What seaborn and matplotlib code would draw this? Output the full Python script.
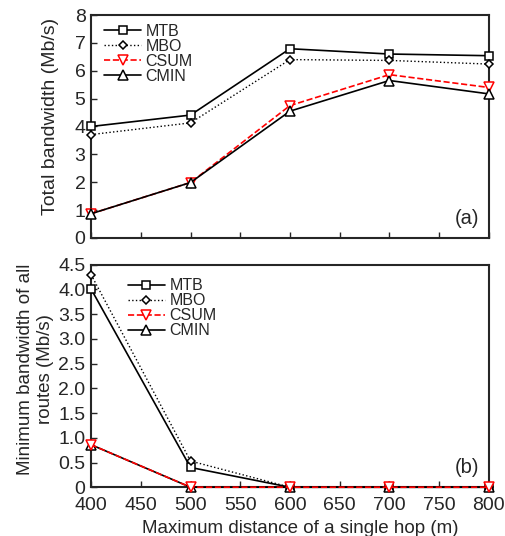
import matplotlib
matplotlib.use("Agg")
import matplotlib.pyplot as plt
import seaborn as sns
import pandas as pd

# Maximum single-hop distance (m)
distance = [400, 500, 600, 700, 800]

# Total bandwidth (Mb/s)
total_mtb = [4.00, 4.41, 6.79, 6.60, 6.54]
total_mbo = [3.71, 4.13, 6.40, 6.37, 6.24]
total_csum = [0.87, 1.99, 4.75, 5.86, 5.40]
total_cmin = [0.87, 1.99, 4.55, 5.65, 5.17]

# Minimum bandwidth of all routes (Mb/s)
min_mtb = [4.01, 0.40, 0.0, 0.0, 0.0]
min_mbo = [4.30, 0.53, 0.0, 0.0, 0.0]
min_csum = [0.86, 0.0, 0.0, 0.0, 0.0]
min_cmin = [0.86, 0.0, 0.0, 0.0, 0.0]

series_names = ["MTB", "MBO", "CSUM", "CMIN"]
styles = {
    "MTB": dict(color="black", linestyle="-", marker="s", lw=1.2, ms=5.5),
    "MBO": dict(color="black", linestyle=":", marker="D", lw=1.0, ms=4.2),
    "CSUM": dict(color="red", linestyle="--", marker="v", lw=1.2, ms=6.5),
    "CMIN": dict(color="black", linestyle="-", marker="^", lw=1.2, ms=6.5),
}

sns.set_style("ticks", {"xtick.direction": "in", "ytick.direction": "in"})
plt.rcParams["font.family"] = ["Liberation Sans", "DejaVu Sans"]

fig = plt.figure(figsize=(5.06, 5.36), dpi=100)
ax1 = fig.add_axes([0.180, 0.556, 0.786, 0.416])
ax2 = fig.add_axes([0.180, 0.091, 0.786, 0.415])


def draw(ax, values, zorders):
    for name, vals, z in zip(series_names, values, zorders):
        df = pd.DataFrame({"x": distance, "y": vals})
        st = styles[name]
        sns.lineplot(data=df, x="x", y="y", ax=ax, color=st["color"],
                     linestyle=st["linestyle"], marker=st["marker"],
                     markersize=st["ms"], markerfacecolor="white",
                     markeredgecolor=st["color"], markeredgewidth=1.1,
                     linewidth=st["lw"], label=name, clip_on=False,
                     zorder=z)
    for sp in ax.spines.values():
        sp.set_linewidth(1.5)
        sp.set_zorder(1)
    ax.set_xlim(400, 800)
    ax.set_xticks(range(400, 801, 50))
    ax.tick_params(axis="both", direction="in", length=4, width=1.0,
                   labelsize=14)
    ax.tick_params(axis="y", pad=4)
    ax.tick_params(axis="x", pad=7)


def add_legend(ax, anchor):
    ax.legend(loc="upper left", frameon=False, fontsize=11.5,
              handlelength=2.3, handletextpad=0.3, labelspacing=0.0,
              borderaxespad=0.0, borderpad=0.0, bbox_to_anchor=anchor)


draw(ax1, [total_mtb, total_mbo, total_csum, total_cmin], [3, 3, 3, 4])
ax1.set_ylim(0, 8)
ax1.set_yticks(range(0, 9))
ax1.set_xticklabels([])
ax1.set_xlabel("")
ax1.set_ylabel("Total bandwidth (Mb/s)", fontsize=14)
ax1.yaxis.set_label_coords(-0.103, 0.547)
ax1.yaxis.label.set_va("center")
add_legend(ax1, (0.033, 0.96))
ax1.text(0.975, 0.045, "(a)", transform=ax1.transAxes, ha="right",
         va="bottom", fontsize=14.5)

draw(ax2, [min_mtb, min_mbo, min_csum, min_cmin], [3, 3, 5, 4])
ax2.set_ylim(0, 4.5)
yt = [0, 0.5, 1.0, 1.5, 2.0, 2.5, 3.0, 3.5, 4.0, 4.5]
ax2.set_yticks(yt)
ax2.set_yticklabels(["0"] + [f"{v:.1f}" for v in yt[1:]])
ax2.set_xticklabels([str(v) for v in range(400, 801, 50)])
ax2.set_xlabel("Maximum distance of a single hop (m)", fontsize=13.5)
ax2.xaxis.set_label_coords(0.525, -0.185)
ax2.xaxis.label.set_va("center")
ax2.set_ylabel("Minimum bandwidth of all\nroutes (Mb/s)", fontsize=13.5,
               linespacing=1.25)
ax2.yaxis.set_label_coords(-0.140, 0.53)
ax2.yaxis.label.set_va("center")
add_legend(ax2, (0.093, 0.94))
ax2.text(0.975, 0.045, "(b)", transform=ax2.transAxes, ha="right",
         va="bottom", fontsize=14.5)

fig.savefig("out.png", dpi=100)
